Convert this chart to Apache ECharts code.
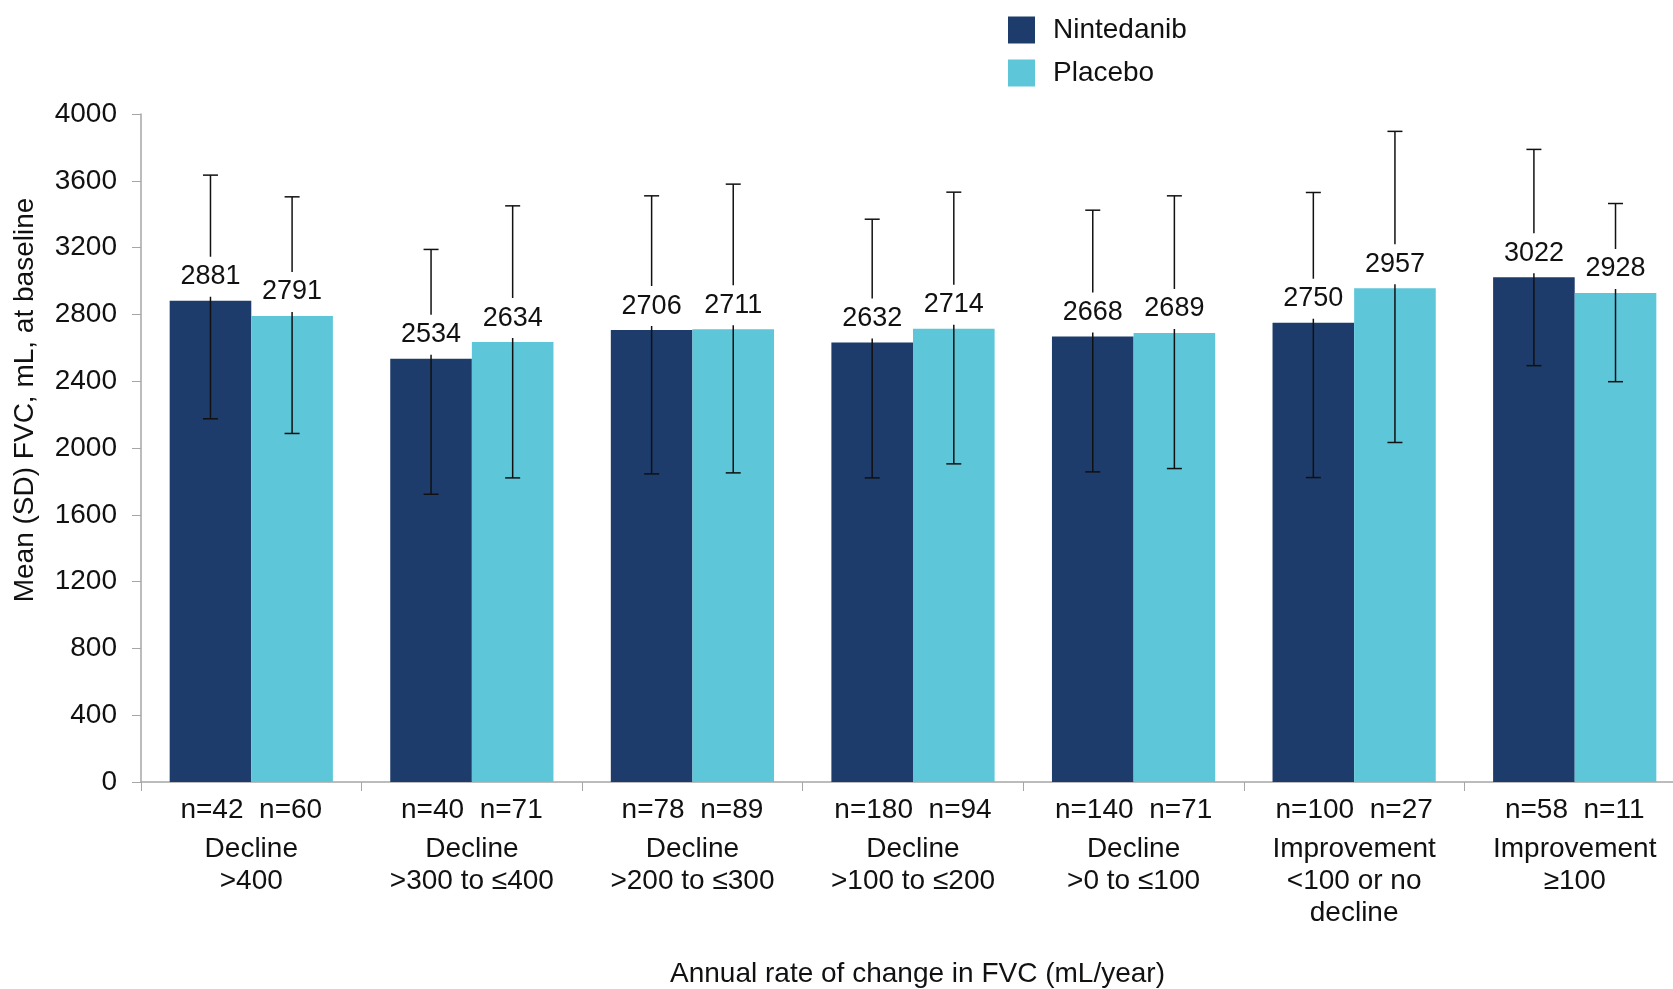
<!DOCTYPE html>
<html>
<head>
<meta charset="utf-8">
<script src="https://cdn.jsdelivr.net/npm/echarts@6/dist/echarts.min.js"></script>
<style>
	html, body { margin: 0; padding: 0; background: #fff; }
	#chart { width: 1673px; height: 989px; }
</style>
</head>
<body>
<div id="chart"></div>
<script>
// categories (x axis), one per group of bars
var categories = [
	"Decline\n>400",
	"Decline\n>300 to ≤400",
	"Decline\n>200 to ≤300",
	"Decline\n>100 to ≤200",
	"Decline\n>0 to ≤100",
	"Improvement\n<100 or no\ndecline",
	"Improvement\n≥100"
]
var nNintedanib = [42, 40, 78, 180, 140, 100, 58]
var nPlacebo = [60, 71, 89, 94, 71, 27, 11]

// mean FVC at baseline
var meanNintedanib = [2881, 2534, 2706, 2632, 2668, 2750, 3022]
var meanPlacebo = [2791, 2634, 2711, 2714, 2689, 2957, 2928]

// ends of the SD whiskers
var sdHighNintedanib = [3634, 3189, 3510, 3370, 3424, 3530, 3788]
var sdLowNintedanib = [2175, 1723, 1845, 1821, 1857, 1823, 2493]
var sdHighPlacebo = [3504, 3450, 3580, 3532, 3510, 3896, 3464]
var sdLowPlacebo = [2087, 1821, 1851, 1905, 1877, 2033, 2397]

var yTicks = [0, 400, 800, 1200, 1600, 2000, 2400, 2800, 3200, 3600, 4000]

var FONT = "'Liberation Sans', Arial, sans-serif"
var TXT = "#111"
var NAVY = "#1d3c6b"
var CYAN = "#5ec6d9"
var CAT_GAP = 0.26

// whisker + value label, drawn over the bars
function errorItem(side) {
	return function(params, api) {
		var i = api.value(0)
		var top = api.coord([i, api.value(1)])
		var hi = api.coord([i, api.value(2)])
		var lo = api.coord([i, api.value(3)])
		var band = api.size([1, 0])[0]
		var bw = (band * (1 - CAT_GAP)) / 2
		var x = top[0] + (side * bw) / 2
		var cap = 7.5
		var ls = { stroke: "#111", lineWidth: 1.5 }
		return {
			type: "group",
			children: [
				{ type: "line", shape: { x1: x, y1: hi[1], x2: x, y2: lo[1] }, style: ls },
				{ type: "line", shape: { x1: x - cap, y1: hi[1], x2: x + cap, y2: hi[1] }, style: ls },
				{ type: "line", shape: { x1: x - cap, y1: lo[1], x2: x + cap, y2: lo[1] }, style: ls },
				{
					type: "text",
					style: {
						text: String(api.value(1)),
						x: x,
						y: top[1] - 4,
						align: "center",
						verticalAlign: "bottom",
						fontSize: 27,
						fontFamily: FONT,
						lineHeight: 28,
						fill: TXT,
						backgroundColor: "#fff",
						padding: [6, 3, 6, 3]
					}
				}
			]
		}
	}
}

function errData(means, highs, lows) {
	return means.map(function(m, i) {
		return [i, m, highs[i], lows[i]]
	})
}

var option = {
	animation: false,
	backgroundColor: "#fff",
	legend: {
		data: ["Nintedanib", "Placebo"],
		orient: "vertical",
		left: 1003,
		top: 11,
		icon: "rect",
		itemWidth: 27,
		itemHeight: 27,
		itemGap: 15,
		textStyle: { fontSize: 28, fontFamily: FONT, color: TXT, padding: [0, 0, 0, 13] }
	},
	// the last category runs a little past the right edge, as in the original
	grid: {
		left: 141,
		top: 114,
		width: 1544,
		height: 668,
		containLabel: false,
		outerBoundsMode: "none"
	},
	xAxis: {
		type: "category",
		data: categories,
		name: "Annual rate of change in FVC (mL/year)",
		nameLocation: "middle",
		nameGap: 178,
		nameTextStyle: { fontSize: 28, fontFamily: FONT, color: TXT, padding: [0, 0, 0, 9] },
		axisLine: { lineStyle: { color: "#a6a6a6", width: 1.5 } },
		axisTick: { show: true, length: 9, lineStyle: { color: "#a6a6a6" } },
		axisLabel: {
			interval: 0,
			margin: 5,
			formatter: function(value, idx) {
				var lines = value.split("\n")
				return (
					"{n|n=" + nNintedanib[idx] + "  n=" + nPlacebo[idx] + "}\n{c|" +
					lines.join("}\n{c|") + "}"
				)
			},
			rich: {
				n: { fontSize: 28, fontFamily: FONT, color: TXT, lineHeight: 46 },
				c: { fontSize: 28, fontFamily: FONT, color: TXT, lineHeight: 32 }
			}
		}
	},
	yAxis: {
		type: "value",
		min: yTicks[0],
		max: yTicks[yTicks.length - 1],
		interval: yTicks[1] - yTicks[0],
		splitLine: { show: false },
		axisLine: { show: true, lineStyle: { color: "#a6a6a6", width: 1.5 } },
		axisTick: { show: true, length: 9, lineStyle: { color: "#a6a6a6" } },
		axisLabel: {
			fontSize: 28,
			fontFamily: FONT,
			color: TXT,
			margin: 24,
			formatter: function(v) {
				return String(v)
			}
		}
	},
	graphic: [
		{
			type: "text",
			x: 25,
			y: 400,
			rotation: Math.PI / 2,
			style: {
				text: "Mean (SD) FVC, mL, at baseline",
				fontSize: 28,
				fontFamily: FONT,
				fill: TXT,
				align: "center",
				verticalAlign: "middle"
			}
		}
	],
	series: [
		{
			name: "Nintedanib",
			type: "bar",
			data: meanNintedanib,
			barGap: "0%",
			barCategoryGap: CAT_GAP * 100 + "%",
			itemStyle: { color: NAVY },
			z: 2
		},
		{
			name: "Placebo",
			type: "bar",
			data: meanPlacebo,
			barGap: "0%",
			barCategoryGap: CAT_GAP * 100 + "%",
			itemStyle: { color: CYAN },
			z: 2
		},
		{
			name: "sdNintedanib",
			type: "custom",
			renderItem: errorItem(-1),
			data: errData(meanNintedanib, sdHighNintedanib, sdLowNintedanib),
			encode: { x: 0, y: 1 },
			z: 5
		},
		{
			name: "sdPlacebo",
			type: "custom",
			renderItem: errorItem(1),
			data: errData(meanPlacebo, sdHighPlacebo, sdLowPlacebo),
			encode: { x: 0, y: 1 },
			z: 5
		}
	]
}

var myChart = echarts.init(document.getElementById("chart"), null, { renderer: "canvas" })
myChart.setOption(option)
</script>
</body>
</html>
